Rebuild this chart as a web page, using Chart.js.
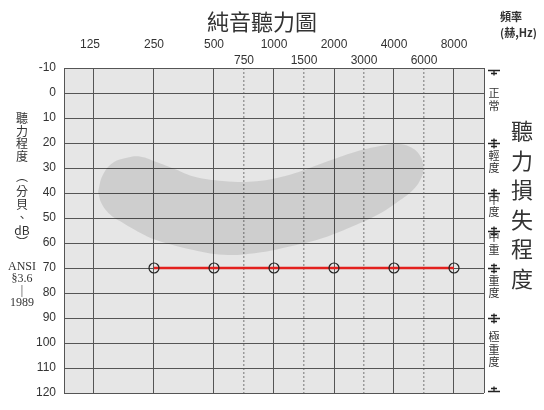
<!DOCTYPE html>
<html>
<head>
<meta charset="utf-8">
<script src="https://cdn.jsdelivr.net/npm/chart.js@4.4.1/dist/chart.umd.min.js"></script>
<style>
    html, body { margin: 0; padding: 0; background: #fff; }
    #wrap { width: 544px; height: 410px; position: relative; }
</style>
</head>
<body>
<div id="wrap"><canvas id="audiogram"></canvas></div>
<script>
// Frequency ticks (Hz) and hearing level ticks (dB)
const freqMain = [125, 250, 500, 1000, 2000, 4000, 8000];
const freqMid = [750, 1500, 3000, 6000];
const dbTicks = [-10, 0, 10, 20, 30, 40, 50, 60, 70, 80, 90, 100, 110, 120];

// Measured thresholds
const testFreqs = [250, 500, 1000, 2000, 4000, 8000];
const thresholds = [70, 70, 70, 70, 70, 70];

// Speech banana outline (clockwise from the left tip)
const bananaFreq = [131, 138, 155, 185, 215, 255, 320, 400, 555, 816, 1200, 1760, 2590, 3400, 4100, 4800, 5400, 5620,
    5400, 4950, 4100, 3400, 2590, 1760, 1200, 816, 555, 378, 260, 220, 175, 150, 136, 131];
const bananaDb = [39.5, 33, 28, 25.8, 25.5, 27.5, 30.5, 33.5, 35.2, 35.3, 32.7, 28, 23.4, 21.2, 20.3, 21.5, 25, 30.5,
    35, 39, 44, 48.2, 52.7, 58, 61.4, 64, 64.7, 62.5, 59, 56.5, 52, 48.5, 44, 39.5];

// Degree of hearing loss bands
const lossBounds = [-10, 20, 40, 55, 70, 90, 120];
const lossNames = ['正常', '輕度', '中度', '中重', '重度', '極重度'];

// Axis captions
const leftCaption = ['聽', '力', '程', '度', '︵', '分', '貝', '、', 'dB', '︶'];
const leftCaptionY = [118, 131, 143, 156, 176, 191, 204, 217, 230, 242];
const ansiCaption = ['ANSI', '§3.6', '|', '1989'];
const rightCaption = ['聽', '力', '損', '失', '程', '度'];

const xMin = 125 / Math.SQRT2;
const xMax = 8000 * Math.SQRT2;

// Audiograms draw the inter-octave frequencies (750, 1500...) half way between
// the octaves around them, so place them at the geometric mean of those octaves
const midPos = (f) => f / 1.5 * Math.SQRT2;

const cjk = '"Noto Sans CJK TC", "Noto Sans CJK SC", sans-serif';

// Plot background plus all the text around the grid
const audiogramDecor = {
    id: 'audiogramDecor',
    beforeDraw(chart) {
        const { ctx, chartArea: a } = chart;
        ctx.save();
        ctx.fillStyle = '#e6e6e6';
        ctx.fillRect(a.left, a.top, a.right - a.left, a.bottom - a.top);
        ctx.restore();
    },
    afterDraw(chart) {
        const { ctx, scales } = chart;
        const x = scales.x, y = scales.y;
        ctx.save();
        ctx.fillStyle = '#333';
        ctx.textAlign = 'center';
        ctx.textBaseline = 'middle';

        // Title
        ctx.font = '22px ' + cjk;
        ctx.fillText('純音聽力圖', 262, 22);

        // Frequency labels
        ctx.font = '12px "Liberation Sans", Arial, sans-serif';
        freqMain.forEach(f => ctx.fillText(String(f), x.getPixelForValue(f) - (f === 125 ? 4 : 0), 45));
        freqMid.forEach(f => ctx.fillText(String(f), x.getPixelForValue(midPos(f)), 61));

        // Frequency unit
        ctx.textAlign = 'left';
        ctx.font = 'bold 11px ' + cjk;
        ctx.fillText('頻率', 500, 17);
        ctx.fillText('(赫,Hz)', 500, 33);

        // Left vertical caption
        ctx.textAlign = 'center';
        ctx.font = '12px ' + cjk;
        leftCaption.forEach((c, i) => ctx.fillText(c, 22, leftCaptionY[i]));
        ctx.font = '12px "Liberation Serif", serif';
        ansiCaption.forEach((c, i) => ctx.fillText(c, 22, 267 + i * 12));

        // Loss band markers
        ctx.strokeStyle = '#222';
        ctx.lineWidth = 1.3;
        const mx = 494;
        lossBounds.forEach((b, i) => {
            const yy = Math.round(y.getPixelForValue(b)) + 0.5;
            const first = i === 0, last = i === lossBounds.length - 1;
            const yb = first ? yy + 2 : (last ? yy - 2 : yy);
            ctx.beginPath();
            ctx.moveTo(mx - 6, yb); ctx.lineTo(mx + 6, yb);
            const up = first ? 0 : 5, down = last ? 0 : 5;
            ctx.moveTo(mx, yb - up); ctx.lineTo(mx, yb + down);
            if (!first) { ctx.moveTo(mx - 3, yb - 3); ctx.lineTo(mx + 3, yb - 3); }
            if (!last) { ctx.moveTo(mx - 3, yb + 3); ctx.lineTo(mx + 3, yb + 3); }
            ctx.stroke();
        });

        // Loss band names
        ctx.font = '11px ' + cjk;
        lossNames.forEach((name, i) => {
            const mid = (y.getPixelForValue(lossBounds[i]) + y.getPixelForValue(lossBounds[i + 1])) / 2 - 6;
            const chars = Array.from(name);
            const step = 12.5;
            const start = mid - (chars.length - 1) * step / 2;
            chars.forEach((c, k) => ctx.fillText(c, mx, start + k * step));
        });

        // Right big caption
        ctx.font = '22px ' + cjk;
        rightCaption.forEach((c, i) => ctx.fillText(c, 522, 131 + i * 29.5));
        ctx.restore();
    }
};

const ctx = document.getElementById('audiogram').getContext('2d');
const audiogramChart = new Chart(ctx, {
    type: 'scatter',
    data: {
        datasets: [{
            label: 'Threshold',
            data: testFreqs.map((f, i) => ({ x: f, y: thresholds[i] })),
            showLine: true,
            borderColor: '#e3201e',
            borderWidth: 2.5,
            pointRadius: 5,
            pointBorderColor: '#222',
            pointBorderWidth: 1.2,
            pointBackgroundColor: 'rgba(0,0,0,0)',
            order: 0
        }, {
            label: 'Speech banana',
            data: bananaFreq.map((f, i) => ({ x: f, y: bananaDb[i] })),
            showLine: true,
            fill: 'shape',
            tension: 0.4,
            borderWidth: 0,
            borderColor: 'rgba(0,0,0,0)',
            backgroundColor: 'rgba(0,0,0,0.1)',
            pointRadius: 0,
            order: 1
        }]
    },
    options: {
        responsive: true,
        maintainAspectRatio: false,
        animation: false,
        layout: { padding: { top: 68, right: 60, bottom: 17, left: 0 } },
        plugins: {
            legend: { display: false },
            tooltip: { enabled: false }
        },
        scales: {
            x: {
                type: 'logarithmic',
                position: 'top',
                min: xMin,
                max: xMax,
                afterBuildTicks: (scale) => {
                    scale.ticks = [xMin].concat(freqMain, [xMax]).map(v => ({ value: v }));
                },
                ticks: { display: false },
                grid: { color: '#555', lineWidth: 1, drawTicks: false },
                border: { color: '#555' }
            },
            x2: {
                type: 'logarithmic',
                position: 'top',
                min: xMin,
                max: xMax,
                afterBuildTicks: (scale) => {
                    scale.ticks = freqMid.map(f => ({ value: midPos(f) }));
                },
                ticks: { display: false },
                grid: { color: '#9a9a9a', lineWidth: 1.5, drawTicks: false },
                border: { display: false, dash: [2, 2] }
            },
            y: {
                type: 'linear',
                reverse: true,
                min: -10,
                max: 120,
                afterBuildTicks: (scale) => {
                    scale.ticks = dbTicks.map(v => ({ value: v }));
                },
                afterFit: (scale) => { scale.width = 64; },
                ticks: {
                    color: '#333',
                    padding: 8,
                    font: { family: '"Liberation Sans", Arial, sans-serif', size: 12 }
                },
                grid: { color: '#555', lineWidth: 1, drawTicks: false },
                border: { color: '#555' }
            }
        }
    },
    plugins: [audiogramDecor]
});
</script>
</body>
</html>
